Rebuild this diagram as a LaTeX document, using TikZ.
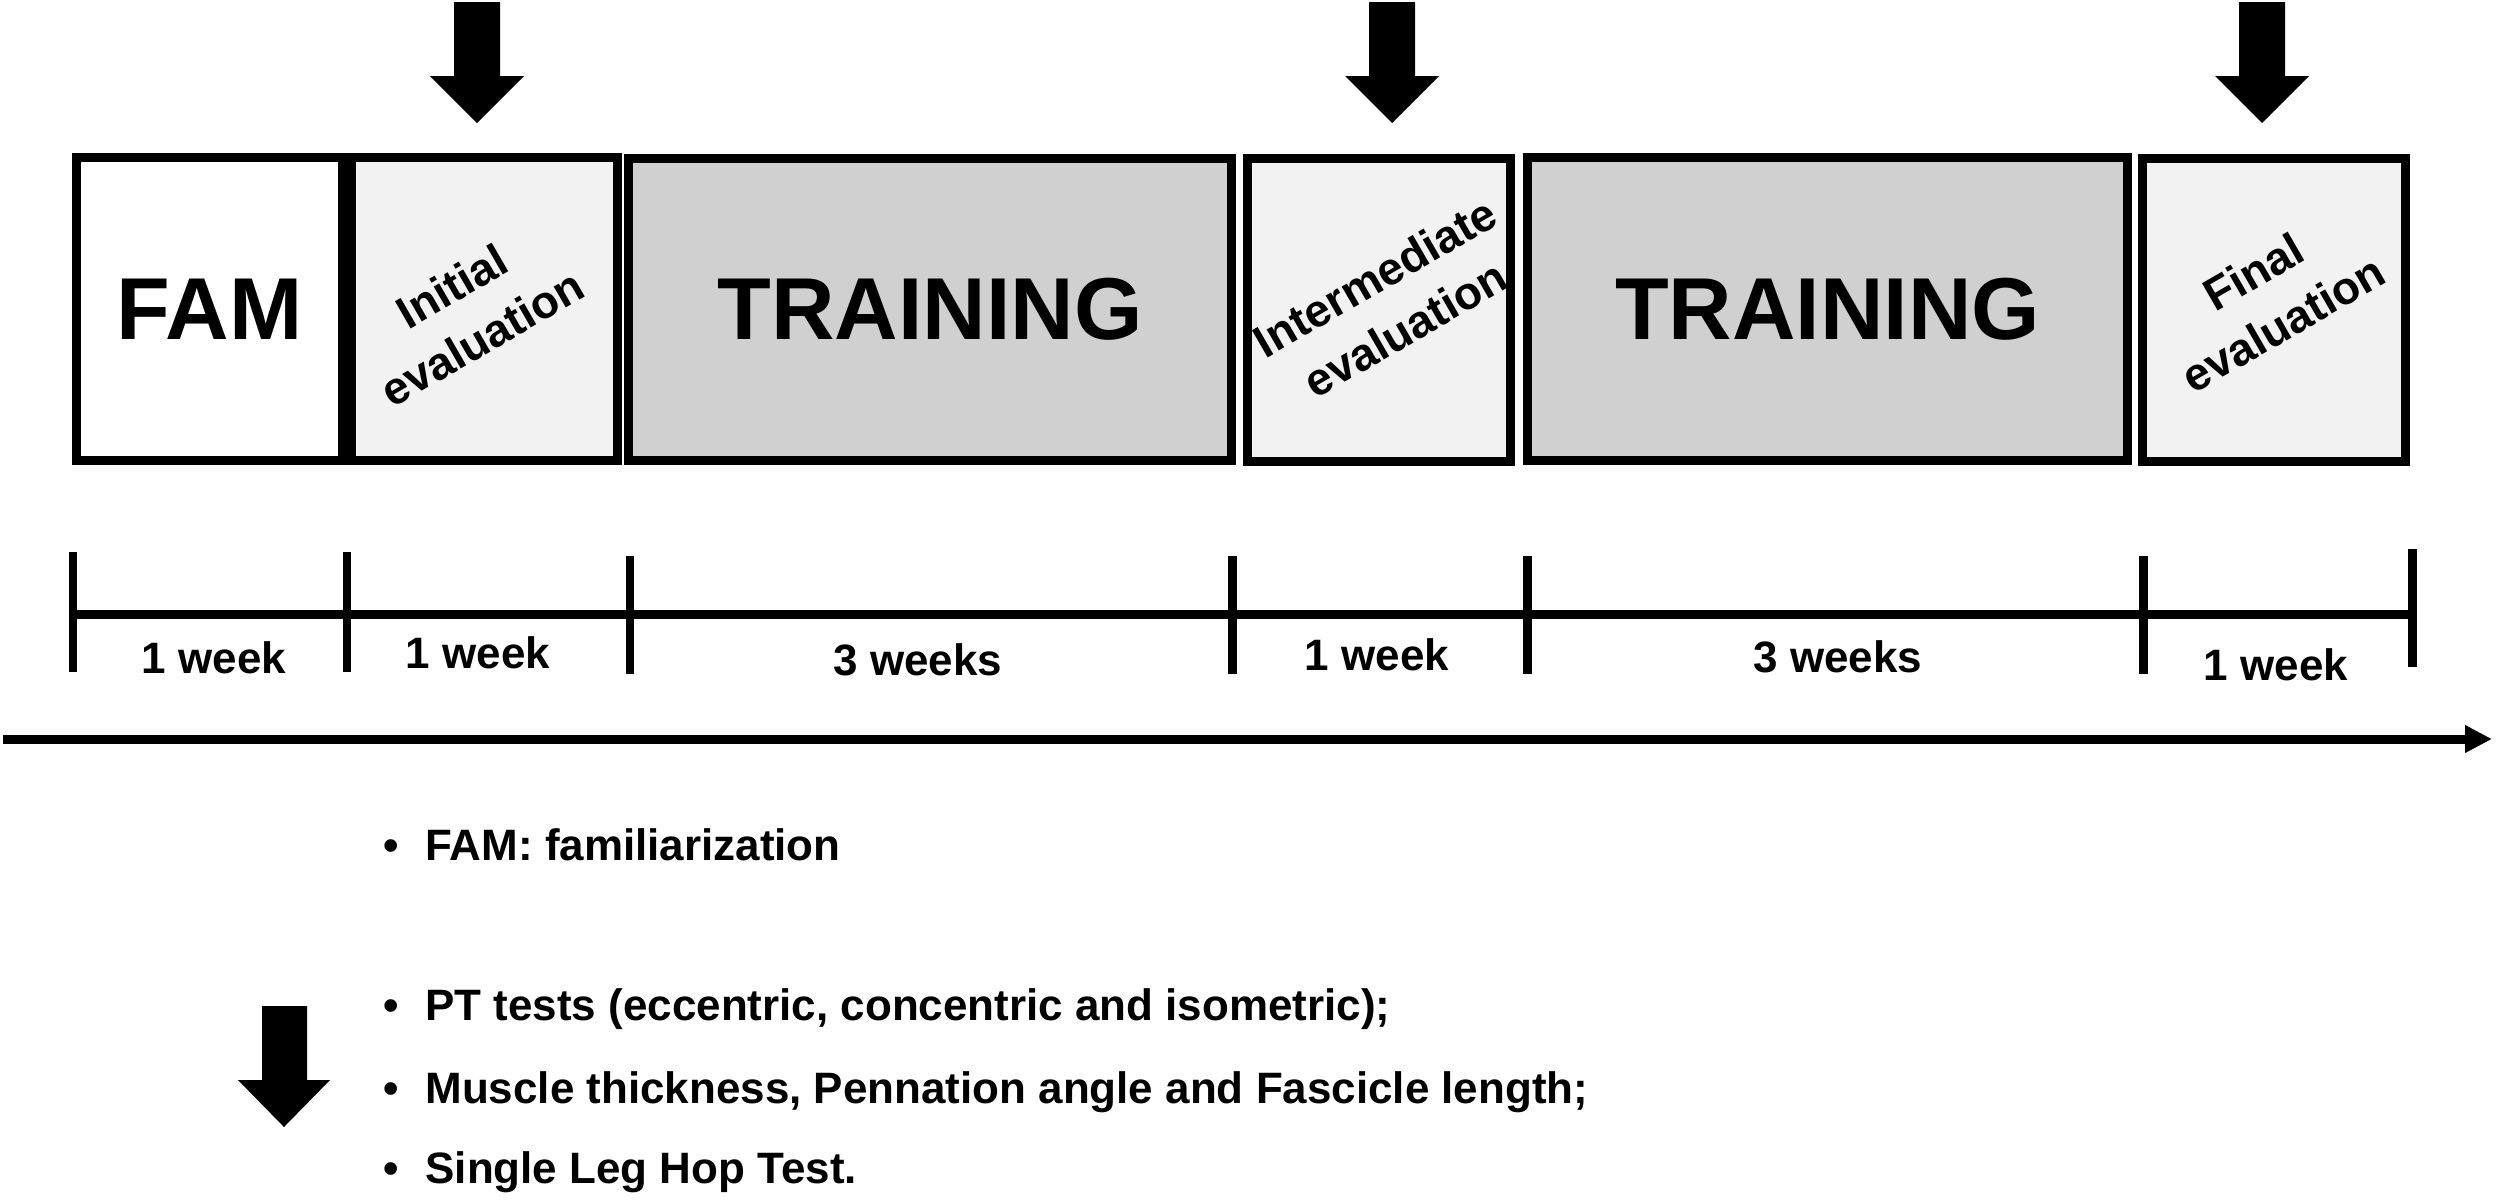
\documentclass[tikz,border=0pt]{standalone}
\usepackage{fontspec}
\setmainfont{Liberation Sans}
\usetikzlibrary{arrows.meta}

\definecolor{evalgray}{RGB}{242,242,242}
\definecolor{traingray}{RGB}{208,208,208}

\tikzset{
  phase/.style={draw, line width=2.55pt, inner sep=0pt, minimum height=3.02cm,
    font=\fontsize{25}{30}\selectfont\bfseries},
  evalbox/.style={phase, fill=evalgray},
  trainbox/.style={phase, fill=traingray},
  evaltext/.style={rotate=30, align=center, inner sep=0pt,
    font=\fontsize{13}{17}\selectfont\bfseries},
  weeklabel/.style={font=\fontsize{12.5}{15}\selectfont\bfseries},
  listitem/.style={anchor=base west, inner sep=0pt,
    font=\fontsize{12.5}{15}\selectfont\bfseries},
  tline/.style={line width=2.55pt}
}

\begin{document}
\begin{tikzpicture}[x=0.01cm, y=-0.01cm]
    \useasboundingbox (0,0) rectangle (2500,1202);

    % Evaluation arrows
    \foreach \ax in {477,1392,2262}
        \fill (\ax-23,2) -- (\ax+23,2) -- (\ax+23,76) -- (\ax+47,76)
            -- (\ax,123) -- (\ax-47,76) -- (\ax-23,76) -- cycle;

    % Phases
    \node[phase, minimum width=2.66cm] (fam) at (209.5,309) {FAM};
    \node[evalbox, minimum width=2.66cm] (init) at (484.5,309) {};
    \node[trainbox, minimum width=6.03cm] (train1) at (930,309.5) {TRAINING};
    \node[evalbox, minimum width=2.63cm] (inter) at (1379,310) {};
    \node[trainbox, minimum width=6.00cm] (train2) at (1827.5,309) {TRAINING};
    \node[evalbox, minimum width=2.63cm] (final) at (2274,310) {};

    % Phase labels
    \node[evaltext] (initlbl) at (467,312) {Initial\\evaluation};
    \node[evaltext] (interlbl) at (1390,303) {Intermediate\\evaluation};
    \node[evaltext] (finallbl) at (2268,298) {Final\\evaluation};

    % Time scale
    \coordinate (t0) at (73,614);
    \coordinate (t1) at (347,614);
    \coordinate (t2) at (630,614);
    \coordinate (t3) at (1232,614);
    \coordinate (t4) at (1527,614);
    \coordinate (t5) at (2143,614);
    \coordinate (t6) at (2412,614);
    \draw[tline] (t0) -- (t6);
    \foreach \t/\a/\b in {t0/-62/58, t1/-62/58, t2/-58/60, t3/-58/60, t4/-58/60, t5/-58/60, t6/-65/53}
        \draw[tline] (\t) +(0,\a) -- +(0,\b);

    % Durations
    \node[weeklabel] (w1) at (214,658) {1 week};
    \node[weeklabel] (w2) at (478,653) {1 week};
    \node[weeklabel] (w3) at (918,660) {3 weeks};
    \node[weeklabel] (w4) at (1377,655) {1 week};
    \node[weeklabel] (w5) at (1838,657) {3 weeks};
    \node[weeklabel] (w6) at (2276,665) {1 week};

    % Time axis
    \coordinate (axstart) at (3,739);
    \coordinate (axend) at (2492,739);
    \draw[tline, -{Triangle[length=0.27cm, width=0.26cm]}] (axstart) -- (axend);

    % Legend
    \node[listitem] (famnote) at (383,860) {\textbullet\hspace{0.6em}FAM: familiarization};
    \node[listitem] (pttests) at (383,1020) {\textbullet\hspace{0.6em}PT tests (eccentric, concentric and isometric);};
    \node[listitem] (muscle) at (383,1103) {\textbullet\hspace{0.6em}Muscle thickness, Pennation angle and Fascicle length;};
    \node[listitem] (hoptest) at (383,1183) {\textbullet\hspace{0.6em}Single Leg Hop Test.};

    % Outcome arrow
    \fill (262,1006) -- (307,1006) -- (307,1080) -- (330,1080)
        -- (284,1127) -- (238,1080) -- (262,1080) -- cycle;
\end{tikzpicture}
\end{document}
